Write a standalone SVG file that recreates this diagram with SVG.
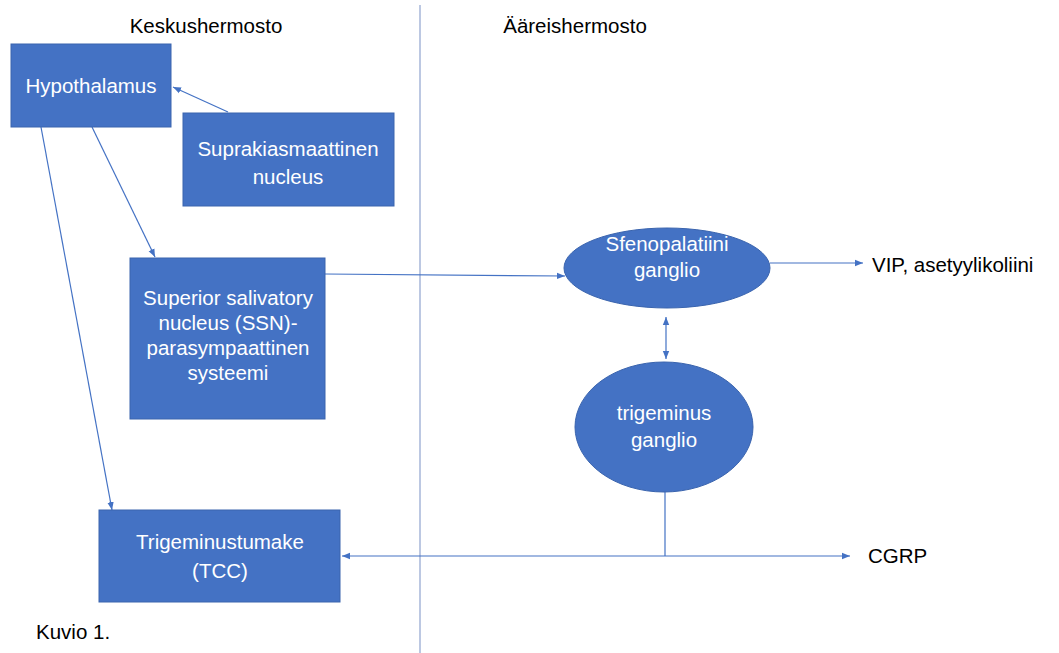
<svg xmlns="http://www.w3.org/2000/svg" width="1059" height="653" viewBox="0 0 1059 653">
<style>
.box{fill:#4472C4;stroke:#3A64AE;stroke-width:1}
.wt{fill:#fff;font-family:"Liberation Sans",Arial,sans-serif;font-size:20.5px;text-anchor:middle}
.bt{fill:#000;font-family:"Liberation Sans",Arial,sans-serif;font-size:20.5px}
.ln{stroke:#4472C4;stroke-width:1.2;fill:none}
.div{stroke:#8FA3CF;stroke-width:1.2}
</style>
<defs>
<marker id="ah" viewBox="0 0 10 10" refX="10" refY="5" markerWidth="8" markerHeight="8" markerUnits="userSpaceOnUse" orient="auto-start-reverse">
<path d="M0,1 L10,5 L0,9 Z" fill="#4472C4"/>
</marker>
</defs>
<rect width="1059" height="653" fill="#fff"/>
<line class="div" x1="420" y1="5" x2="420" y2="653"/>
<text class="bt" x="206" y="33" text-anchor="middle">Keskushermosto</text>
<text class="bt" x="575" y="33" text-anchor="middle">Ääreishermosto</text>
<g id="connectors">
<line class="ln" x1="228" y1="112" x2="173" y2="87" marker-end="url(#ah)"/>
<line class="ln" x1="92" y1="127" x2="155" y2="257" marker-end="url(#ah)"/>
<line class="ln" x1="41" y1="127" x2="112" y2="510" marker-end="url(#ah)"/>
<line class="ln" x1="325" y1="274" x2="565" y2="276" marker-end="url(#ah)"/>
<line class="ln" x1="770" y1="263" x2="863" y2="263" marker-end="url(#ah)"/>
<line class="ln" x1="666" y1="317" x2="666" y2="359" marker-start="url(#ah)" marker-end="url(#ah)"/>
<line class="ln" x1="665" y1="492" x2="665" y2="556"/>
<line class="ln" x1="342" y1="556" x2="850" y2="556" marker-start="url(#ah)" marker-end="url(#ah)"/>
</g>
<g id="hypothalamus">
<rect class="box" x="11" y="44" width="160" height="83"/>
<text class="wt" x="91" y="93">Hypothalamus</text>
</g>
<g id="suprakiasmaattinen">
<rect class="box" x="183" y="113" width="211" height="93"/>
<text class="wt" x="288" y="156">Suprakiasmaattinen</text>
<text class="wt" x="288" y="184">nucleus</text>
</g>
<g id="ssn">
<rect class="box" x="130" y="258" width="195" height="161"/>
<text class="wt" x="228" y="305">Superior salivatory</text>
<text class="wt" x="228" y="330">nucleus (SSN)-</text>
<text class="wt" x="228" y="355">parasympaattinen</text>
<text class="wt" x="228" y="380">systeemi</text>
</g>
<g id="tcc">
<rect class="box" x="99" y="510" width="241" height="92"/>
<text class="wt" x="220" y="549">Trigeminustumake</text>
<text class="wt" x="220" y="578">(TCC)</text>
</g>
<g id="sfenopalatiini">
<ellipse class="box" cx="667" cy="268" rx="103" ry="40"/>
<text class="wt" x="667" y="251">Sfenopalatiini</text>
<text class="wt" x="667" y="277">ganglio</text>
</g>
<g id="trigeminus">
<ellipse class="box" cx="664" cy="427" rx="89" ry="65"/>
<text class="wt" x="664" y="420">trigeminus</text>
<text class="wt" x="664" y="447">ganglio</text>
</g>
<g id="labels">
<text class="bt" x="872" y="272">VIP, asetyylikoliini</text>
<text class="bt" x="868" y="563">CGRP</text>
<text class="bt" x="36" y="639">Kuvio 1.</text>
</g>
</svg>
